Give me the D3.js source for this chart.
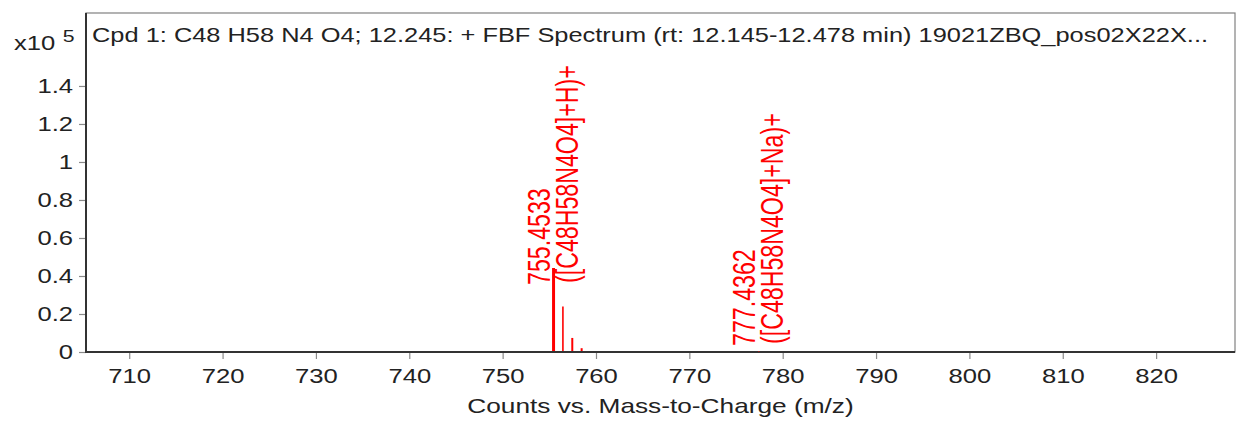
<!DOCTYPE html>
<html>
<head>
<meta charset="utf-8">
<script src="https://cdn.jsdelivr.net/npm/d3@7"></script>
<style>
  body { margin: 0; background: #fff; }
  text { font-family: "Liberation Sans", Arial, sans-serif; }
</style>
</head>
<body>
<script>
// spectrum peaks (m/z, counts)
const peakMz = [755.4533, 756.4567, 757.4598, 758.4625, 777.4362];
const peakCounts = [44200, 24000, 7400, 2000, 300];
const peakWidth = [3, 1.6, 2, 2, 1.6];

// labelled peaks
const labelMz = [755.4533, 777.4362];
const labelTop = ["755.4533", "777.4362"];
const labelBottom = ["([C48H58N4O4]+H)+", "([C48H58N4O4]+Na)+"];

const xTicks = [710, 720, 730, 740, 750, 760, 770, 780, 790, 800, 810, 820];
const yTicks = [0, 20000, 40000, 60000, 80000, 100000, 120000, 140000];

const title = "Cpd 1: C48 H58 N4 O4; 12.245: + FBF Spectrum (rt: 12.145-12.478 min) 19021ZBQ_pos02X22X...";
const xTitle = "Counts vs. Mass-to-Charge (m/z)";

// the reference image is stretched sideways, text follows that
const sx = 1.25;
const labelSx = 1.33;

const margin = { top: 13, right: 3, bottom: 71, left: 86 };
const W = 1238, H = 423;
const width = W - margin.left - margin.right;
const height = H - margin.top - margin.bottom;

const svg = d3.select("body").append("svg")
  .attr("width", W)
  .attr("height", H);

const g = svg.append("g")
  .attr("transform", "translate(" + margin.left + "," + margin.top + ")");

const x = d3.scaleLinear().domain([705.37, 828.45]).range([0, width]);
const y = d3.scaleLinear().domain([0, 178400]).range([height, 0]);

// frame
g.append("rect")
  .attr("x", 0).attr("y", 0)
  .attr("width", width).attr("height", height)
  .attr("fill", "none")
  .attr("stroke", "#808080")
  .attr("stroke-width", 1.2);

// axes
const xAxis = g.append("g")
  .attr("transform", "translate(0," + height + ")")
  .call(d3.axisBottom(x).tickValues(xTicks).tickSize(7).tickPadding(9).tickFormat(d3.format("d")));
const yAxis = g.append("g")
  .call(d3.axisLeft(y).tickValues(yTicks).tickSize(7).tickPadding(7).tickFormat(d => d3.format("~g")(d / 1e5)));

[xAxis, yAxis].forEach(a => {
  a.select(".domain").remove();
  a.selectAll(".tick line").attr("stroke", "#8a8a8a").attr("stroke-width", 1.2);
  a.selectAll(".tick text")
    .attr("font-size", 20.5)
    .attr("fill", "#222")
    .attr("font-family", null);
});
xAxis.selectAll(".tick text").attr("transform", "scale(" + sx + ",1)");
yAxis.selectAll(".tick text").attr("x", -13 / sx).attr("transform", "scale(" + sx + ",1)");

// heavy left and bottom lines
g.append("line").attr("x1", 0).attr("x2", 0).attr("y1", 0).attr("y2", height + 1)
  .attr("stroke", "#333").attr("stroke-width", 2);
g.append("line").attr("x1", -1).attr("x2", width).attr("y1", height).attr("y2", height)
  .attr("stroke", "#333").attr("stroke-width", 2);

// peaks
g.selectAll(".peak")
  .data(peakMz)
  .join("line")
  .attr("class", "peak")
  .attr("x1", d => x(d)).attr("x2", d => x(d))
  .attr("y1", height - 1)
  .attr("y2", (d, i) => y(peakCounts[i]))
  .attr("stroke", "#f00")
  .attr("stroke-width", (d, i) => peakWidth[i]);

// peak labels, rotated
const labelStart = [285, 346];
labelMz.forEach((mz, i) => {
  const px = margin.left + x(mz);
  const lines = [labelTop[i], labelBottom[i]];
  lines.forEach((t, j) => {
    svg.append("text")
      .attr("transform", "translate(" + (px - 3.5 + j * 28) + "," + (labelStart[i] - j * 2) + ") scale(" + labelSx + ",1) rotate(-90)")
      .attr("font-size", 23.2)
      .attr("fill", "#f00")
      .text(t);
  });
});

// title
svg.append("text")
  .attr("x", 92).attr("y", 42)
  .attr("font-size", 21)
  .attr("fill", "#222")
  .attr("textLength", 1116)
  .attr("lengthAdjust", "spacingAndGlyphs")
  .text(title);

// multiplier
const mult = svg.append("text").attr("x", 14).attr("y", 50).attr("fill", "#222");
mult.append("tspan").attr("font-size", 20.5).text("x10");
mult.append("tspan").attr("font-size", 17).attr("dx", 6).attr("dy", -8).text("5");
mult.attr("transform", "translate(" + (14 - 14 * sx) + ",0) scale(" + sx + ",1)");

// x title
svg.append("text")
  .attr("transform", "translate(" + (margin.left + width / 2) + ",413) scale(" + sx + ",1)")
  .attr("text-anchor", "middle")
  .attr("font-size", 21)
  .attr("fill", "#222")
  .text(xTitle);
</script>
</body>
</html>
